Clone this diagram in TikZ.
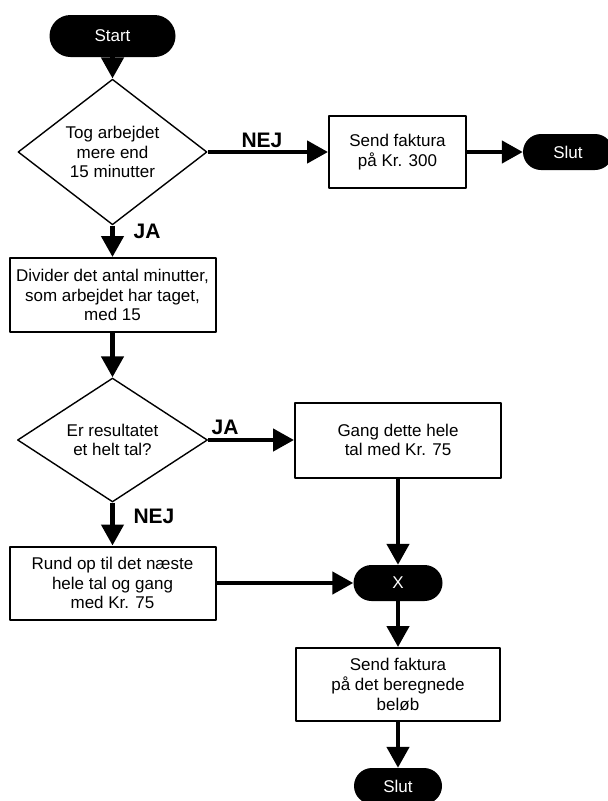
\documentclass[tikz,border=0pt]{standalone}
\usepackage{fontspec}
\setmainfont{Liberation Sans}
\usetikzlibrary{shapes.geometric,arrows.meta}

\begin{document}
\begin{tikzpicture}[x=1pt,y=-1pt,>={Triangle[length=21pt,width=22pt]},line join=round,
	font=\fontsize{17}{19.8}\selectfont,
	boks/.style={draw,line width=2pt,align=center,inner sep=0pt,minimum width=206pt,minimum height=74pt},
	valg/.style={draw,diamond,line width=1.4pt,align=center,inner sep=0pt},
	ende/.style={fill=black,text=white,minimum height=36pt,rounded corners=18pt},
	pil/.style={->,line width=4.5pt},
	svar/.style={font=\fontsize{21}{24}\selectfont\bfseries}]
		\useasboundingbox (0,0) rectangle (608,801);
		\node[ende,minimum width=126pt,minimum height=42pt,rounded corners=21pt] (start) at (112.5,36) {Start};
		\node[valg,minimum width=189pt,minimum height=111pt] (tid) at (112.5,152) {Tog arbejdet\\mere end\\15 minutter};
		\node[boks,minimum width=137pt,minimum height=72pt] (fast) at (397.5,152) {Send faktura\\på Kr. 300};
		\node[ende,minimum width=90pt] (slut1) at (568,152) {Slut};
		\node[boks] (divider) at (112.5,295) {Divider det antal minutter,\\som arbejdet har taget,\\med 15};
		\node[valg,minimum width=190pt,minimum height=114pt] (helt) at (112.5,440) {Er resultatet\\et helt tal?};
		\node[boks,minimum height=75pt] (gang) at (398,440) {Gang dette hele\\tal med Kr. 75};
		\node[boks,minimum height=73pt] (rund) at (112.5,583) {Rund op til det næste\\hele tal og gang\\med Kr. 75};
		\node[ende,minimum width=89pt] (samle) at (398,583) {X};
		\node[boks,minimum width=204pt,minimum height=73pt] (send) at (398,684.5) {Send faktura\\på det beregnede\\beløb};
		\node[ende,minimum width=88pt] (slut2) at (398,786) {Slut};
		% svar
		\node[svar] (nej1) at (262,140) {NEJ};
		\node[svar] (ja1) at (147,231) {JA};
		\node[svar] (ja2) at (225,427) {JA};
		\node[svar] (nej2) at (154,516) {NEJ};
		% pile
		\foreach \a/\b in {start.south/tid.north,tid.east/fast.west,fast.east/slut1.west,
			tid.south/divider.north,divider.south/helt.north,helt.east/gang.west,
			helt.south/rund.north,gang.south/samle.north,rund.east/samle.west,
			samle.south/send.north,send.south/slut2.north}
		\draw[pil] (\a)--(\b);
\end{tikzpicture}
\end{document}
